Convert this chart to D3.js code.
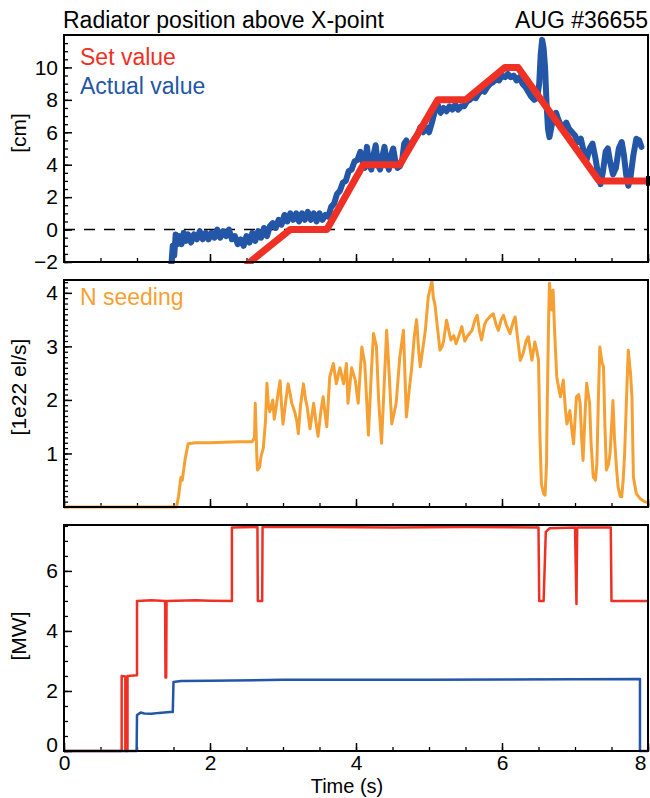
<!DOCTYPE html>
<html>
<head>
<meta charset="utf-8">
<title>AUG #36655</title>
<script src="https://cdnjs.cloudflare.com/ajax/libs/d3/7.8.5/d3.min.js"></script>
<style>
	body { margin: 0; background: white; }
	#chart { display: block; font-family: 'Liberation Sans', Arial, Helvetica, sans-serif; }
</style>
</head>
<body>
<svg id="chart"></svg>
<script>
// tick labels
let timeTicks = [0, 2, 4, 6, 8];
let cmTicks = [-2, 0, 2, 4, 6, 8, 10];
let seedTicks = [1, 2, 3, 4];
let mwTicks = [0, 2, 4, 6];

// radiator position above X-point, [time (s), cm]
let setValue = [[2.52, -2.1], [3.1, 0], [3.6, 0], [4.1, 4], [4.6, 4], [5.12, 8], [5.5, 8],
	[6.04, 10], [6.22, 10], [7.33, 3], [8.0, 3]];

let actualValue = [[1.47, -2.2], [1.49, -1.0], [1.51, -1.6], [1.53, -0.3], [1.55, -0.9], [1.58, -0.4],
	[1.61, -0.9], [1.64, -0.2], [1.67, -0.7], [1.70, -0.3], [1.74, -0.8], [1.78, -0.3], [1.82, -0.6],
	[1.86, -0.1], [1.90, -0.6], [1.94, -0.2], [1.98, -0.6], [2.02, -0.2], [2.06, -0.5], [2.10, 0.0],
	[2.14, -0.5], [2.18, -0.1], [2.22, -0.4], [2.26, 0.0], [2.30, -0.6], [2.34, -0.4], [2.38, -0.9],
	[2.42, -0.6], [2.46, -1.0], [2.50, -0.4], [2.54, -0.8], [2.58, -0.2], [2.62, -0.7], [2.66, -0.1],
	[2.70, -0.5], [2.74, 0.1], [2.78, -0.4], [2.82, 0.2], [2.86, 0.4], [2.90, 0.1], [2.94, 0.6],
	[2.98, 0.3], [3.02, 0.9], [3.06, 0.5], [3.10, 1.0], [3.14, 0.6], [3.18, 1.0], [3.22, 0.5],
	[3.26, 1.0], [3.30, 0.6], [3.34, 1.1], [3.38, 0.6], [3.42, 1.0], [3.46, 0.5], [3.50, 1.0],
	[3.54, 0.6], [3.58, 0.9], [3.62, 0.8], [3.66, 1.4], [3.70, 1.6], [3.74, 2.2], [3.78, 2.4],
	[3.82, 2.9], [3.86, 3.0], [3.90, 3.6], [3.94, 3.7], [3.98, 4.2], [4.02, 4.3], [4.06, 4.8],
	[4.09, 4.2], [4.12, 3.8], [4.15, 5.1], [4.18, 4.0], [4.21, 3.7], [4.24, 4.6], [4.27, 5.2],
	[4.30, 4.0], [4.33, 3.7], [4.36, 4.5], [4.39, 5.1], [4.42, 4.2], [4.45, 3.7], [4.48, 4.6],
	[4.51, 5.0], [4.54, 4.2], [4.57, 3.8], [4.60, 3.9], [4.63, 4.2], [4.66, 5.3], [4.69, 5.5],
	[4.72, 4.9], [4.76, 5.3], [4.80, 5.6], [4.84, 5.8], [4.88, 6.3], [4.92, 6.0], [4.96, 6.3],
	[5.00, 6.0], [5.04, 6.6], [5.08, 7.3], [5.12, 7.7], [5.16, 7.2], [5.20, 7.5], [5.24, 7.3],
	[5.28, 7.6], [5.32, 7.4], [5.36, 7.7], [5.40, 7.4], [5.44, 7.6], [5.48, 7.6], [5.52, 7.9],
	[5.56, 8.0], [5.60, 8.2], [5.64, 8.1], [5.68, 8.4], [5.72, 8.6], [5.76, 8.5], [5.80, 8.8],
	[5.84, 9.0], [5.88, 9.1], [5.92, 9.3], [5.96, 9.2], [6.00, 9.5], [6.04, 9.4], [6.08, 9.6],
	[6.12, 9.4], [6.16, 9.5], [6.20, 9.2], [6.24, 9.4], [6.28, 9.0], [6.32, 8.8], [6.36, 8.5],
	[6.40, 8.2], [6.44, 8.0], [6.48, 8.1], [6.51, 9.0], [6.53, 10.8], [6.55, 11.7], [6.57, 11.2],
	[6.59, 10.0], [6.61, 7.8], [6.63, 6.2], [6.65, 5.7], [6.68, 6.4], [6.71, 6.9], [6.74, 7.2],
	[6.77, 6.8], [6.80, 6.5], [6.84, 6.3], [6.88, 6.6], [6.92, 6.2], [6.96, 6.0], [7.00, 5.8],
	[7.04, 5.4], [7.08, 5.6], [7.12, 4.8], [7.16, 4.3], [7.20, 5.0], [7.24, 5.3], [7.28, 4.4],
	[7.32, 3.3], [7.35, 2.8], [7.38, 3.5], [7.42, 4.8], [7.45, 5.0], [7.48, 4.2], [7.52, 3.4],
	[7.56, 3.8], [7.60, 5.0], [7.64, 5.4], [7.67, 4.6], [7.70, 3.4], [7.73, 2.7], [7.76, 3.2],
	[7.80, 4.6], [7.84, 5.6], [7.88, 5.5], [7.91, 5.1]];

// N seeding rate, [time (s), 1e22 el/s]
let nSeeding = [[0, 0], [1.54, 0], [1.57, 0.2], [1.60, 0.55], [1.62, 0.5], [1.66, 0.9], [1.70, 1.18],
	[1.80, 1.2], [2.0, 1.2], [2.2, 1.21], [2.4, 1.22], [2.58, 1.22], [2.61, 1.3], [2.62, 1.94],
	[2.64, 1.0], [2.65, 0.69], [2.68, 0.75], [2.70, 0.95], [2.73, 1.1], [2.76, 1.6], [2.78, 2.31],
	[2.80, 1.9], [2.82, 1.78], [2.86, 2.0], [2.88, 1.64], [2.91, 1.9], [2.93, 2.1], [2.96, 2.36],
	[2.98, 1.9], [3.00, 1.55], [3.04, 2.0], [3.07, 2.3], [3.10, 2.1], [3.12, 1.94], [3.16, 1.78],
	[3.19, 1.6], [3.21, 1.37], [3.24, 1.9], [3.28, 2.3], [3.31, 2.0], [3.33, 1.88], [3.37, 1.46],
	[3.42, 1.94], [3.45, 1.6], [3.48, 1.32], [3.52, 1.8], [3.55, 2.06], [3.58, 1.7], [3.60, 1.5],
	[3.64, 2.43], [3.69, 2.68], [3.73, 2.3], [3.78, 2.6], [3.83, 2.3], [3.87, 2.68], [3.89, 1.94],
	[3.94, 2.6], [3.99, 2.37], [4.03, 1.94], [4.08, 2.99], [4.12, 2.68], [4.15, 1.9], [4.17, 1.34],
	[4.21, 2.5], [4.24, 3.24], [4.28, 3.0], [4.31, 2.0], [4.35, 1.19], [4.39, 2.4], [4.42, 3.3],
	[4.45, 2.6], [4.49, 1.55], [4.55, 1.94], [4.60, 2.8], [4.65, 3.3], [4.67, 2.5], [4.69, 1.68],
	[4.73, 2.2], [4.76, 2.56], [4.80, 3.2], [4.83, 3.5], [4.86, 2.9], [4.88, 2.62], [4.92, 3.0],
	[4.95, 3.3], [4.99, 3.93], [5.02, 4.1], [5.04, 4.22], [5.06, 3.9], [5.08, 3.8], [5.12, 3.3],
	[5.15, 2.93], [5.18, 3.0], [5.20, 3.1], [5.24, 3.49], [5.27, 3.3], [5.30, 3.12], [5.34, 3.2],
	[5.37, 3.05], [5.41, 3.2], [5.45, 3.37], [5.49, 3.1], [5.52, 3.18], [5.56, 3.25], [5.59, 3.3],
	[5.63, 3.5], [5.66, 3.58], [5.69, 3.3], [5.72, 3.12], [5.76, 3.4], [5.79, 3.49], [5.83, 3.55],
	[5.88, 3.61], [5.92, 3.4], [5.95, 3.3], [5.99, 3.5], [6.02, 3.58], [6.06, 3.4], [6.11, 3.24],
	[6.15, 3.45], [6.18, 3.55], [6.21, 3.2], [6.25, 2.74], [6.29, 2.87], [6.33, 3.1], [6.36, 3.18],
	[6.41, 2.74], [6.45, 3.08], [6.48, 2.9], [6.50, 2.74], [6.52, 1.31], [6.54, 0.43], [6.57, 0.25],
	[6.59, 0.22], [6.61, 0.8], [6.62, 1.94], [6.64, 3.6], [6.65, 4.18], [6.68, 3.68], [6.70, 4.05],
	[6.72, 3.3], [6.75, 2.43], [6.78, 2.2], [6.80, 2.06], [6.84, 2.37], [6.87, 1.8], [6.89, 1.55],
	[6.93, 1.8], [6.96, 1.4], [6.98, 1.18], [7.02, 2.06], [7.05, 2.1], [7.07, 1.94], [7.09, 1.3],
	[7.11, 0.87], [7.14, 1.8], [7.16, 2.31], [7.20, 1.94], [7.22, 1.2], [7.25, 0.56], [7.28, 0.5],
	[7.30, 0.81], [7.32, 2.0], [7.34, 2.99], [7.37, 2.7], [7.39, 2.62], [7.41, 1.5], [7.43, 0.69],
	[7.46, 0.8], [7.48, 1.0], [7.52, 1.99], [7.54, 1.31], [7.57, 0.7], [7.59, 0.37], [7.62, 0.2],
	[7.64, 0.19], [7.66, 0.5], [7.68, 1.0], [7.71, 2.2], [7.73, 2.93], [7.76, 2.5], [7.78, 2.06],
	[7.80, 0.56], [7.84, 0.25], [7.89, 0.16], [7.95, 0.1], [8.1, 0.05]];

// heating power, [time (s), MW]
let nbiPower = [[0, 0], [0.79, 0], [0.79, 2.5], [0.84, 2.48], [0.84, 0], [0.87, 0], [0.87, 2.5],
	[1.0, 2.52], [1.0, 5.0], [1.2, 5.02], [1.385, 5.0], [1.39, 2.45], [1.40, 2.45], [1.405, 5.0],
	[1.8, 5.02], [2.0, 5.01], [2.3, 5.0], [2.3, 7.45], [2.65, 7.46], [2.655, 5.0], [2.715, 5.0],
	[2.72, 7.46], [3.5, 7.46], [4.5, 7.45], [5.5, 7.46], [6.5, 7.45], [6.51, 5.0], [6.57, 5.0],
	[6.6, 7.3], [6.65, 7.42], [7.0, 7.45], [7.02, 4.9], [7.03, 7.45], [7.49, 7.45], [7.5, 5.0],
	[8.1, 5.0]];

let ecrhPower = [[0, 0], [0.995, 0], [1.0, 1.2], [1.05, 1.28], [1.1, 1.25], [1.2, 1.24], [1.3, 1.27],
	[1.45, 1.3], [1.49, 1.3], [1.5, 2.3], [1.6, 2.33], [2.0, 2.34], [3.0, 2.37], [4.0, 2.37],
	[5.0, 2.37], [6.0, 2.38], [7.0, 2.39], [7.89, 2.4], [7.89, 0], [8.1, 0]];

let red = '#ee3124';
let blue = '#2356a6';
let orange = '#f6a033';

function makeChart() {
	let w = 650;
	let h = 798;
	let left = 64;
	let right = 648;

	let svg = d3.select('#chart')
		.attr('width', w)
		.attr('height', h);

	let x = d3.scaleLinear().domain([0, 8]).range([left, right]);

	function styleAxis(g, width) {
		g.select('.domain').remove();
		g.selectAll('line').style('stroke', '#000').style('stroke-width', width);
		g.selectAll('text').style('font-size', '21px').style('fill', '#000')
			.style('font-family', "'Liberation Sans', Arial, sans-serif");
	}

	function makePanel(name, top, bottom, domain, ticks, minor, showTime) {
		let y = d3.scaleLinear().domain(domain).range([bottom, top]);

		svg.append('clipPath')
			.attr('id', 'clip-' + name)
			.append('rect')
			.attr('x', left)
			.attr('y', top)
			.attr('width', right - left)
			.attr('height', bottom - top + 2);

		// y axis, minor then major, ticks pointing inwards
		svg.append('g')
			.attr('transform', `translate(${left},0)`)
			.call(d3.axisLeft(y).tickValues(d3.range(domain[0], domain[1], minor)).tickSize(-4).tickFormat(''))
			.call(g => styleAxis(g, 1.3));

		svg.append('g')
			.attr('class', 'yaxis-' + name)
			.attr('transform', `translate(${left},0)`)
			.call(d3.axisLeft(y).tickValues(ticks).tickSize(-8).tickPadding(6).tickFormat(d3.format('d')))
			.call(g => styleAxis(g, 1.5));

		// time axis
		svg.append('g')
			.attr('transform', `translate(0,${bottom})`)
			.call(d3.axisBottom(x).tickValues(d3.range(0, 8.01, 0.5)).tickSize(-4).tickFormat(''))
			.call(g => styleAxis(g, 1.3));

		let xa = svg.append('g')
			.attr('transform', `translate(0,${bottom})`)
			.call(d3.axisBottom(x).tickValues(timeTicks).tickSize(-8).tickPadding(4)
				.tickFormat(showTime ? d3.format('d') : ''))
			.call(g => styleAxis(g, 1.5));
		// last label pulled inside the page like in the original
		xa.selectAll('.tick').filter(d => d == 8).select('text').attr('x', -8);

		let plot = svg.append('g').attr('clip-path', `url(#clip-${name})`);

		let box = svg.append('rect')
			.attr('x', left)
			.attr('y', top)
			.attr('width', right - left)
			.attr('height', bottom - top)
			.style('fill', 'none')
			.style('stroke', '#000')
			.style('stroke-width', 2);

		return { y: y, plot: plot, box: box };
	}

	function drawLine(panel, data, color, width) {
		let line = d3.line()
			.x(d => x(d[0]))
			.y(d => panel.y(d[1]));
		panel.plot.append('path')
			.datum(data)
			.attr('d', line)
			.style('fill', 'none')
			.style('stroke', color)
			.style('stroke-width', width)
			.style('stroke-linejoin', 'round')
			.style('stroke-linecap', 'round');
	}

	// panel 1 : radiator position
	let p1 = makePanel('pos', 35, 262, [-2, 12], cmTicks, 0.5, false);
	p1.plot.append('line')
		.attr('x1', x(0)).attr('x2', x(8))
		.attr('y1', p1.y(0)).attr('y2', p1.y(0))
		.style('stroke', '#000')
		.style('stroke-width', 1.5)
		.style('stroke-dasharray', '11,9');
	drawLine(p1, actualValue, blue, 6);
	drawLine(p1, setValue, red, 7);
	svg.append('line')
		.attr('x1', right).attr('x2', right)
		.attr('y1', p1.y(3.3)).attr('y2', p1.y(2.7))
		.style('stroke', '#000')
		.style('stroke-width', 4);

	// panel 2 : N seeding
	let p2 = makePanel('seed', 280, 507, [0, 4.24], seedTicks, 0.1, false);
	drawLine(p2, nSeeding, orange, 3);

	// panel 3 : heating power
	let p3 = makePanel('pow', 525, 751, [0, 7.53], mwTicks, 0.5, true);
	drawLine(p3, nbiPower, red, 2.5);
	drawLine(p3, ecrhPower, blue, 2.5);
	svg.selectAll('.yaxis-pow .tick').filter(d => d == 0).select('text').attr('y', -6);

	// titles and legends
	svg.append('text')
		.attr('x', 63)
		.attr('y', 28)
		.style('font-size', '23px')
		.text('Radiator position above X-point');
	svg.append('text')
		.attr('x', 648)
		.attr('y', 28)
		.style('font-size', '23px')
		.style('text-anchor', 'end')
		.text('AUG #36655');

	svg.append('text')
		.attr('x', 80).attr('y', 65)
		.style('font-size', '23px')
		.style('fill', red)
		.text('Set value');
	svg.append('text')
		.attr('x', 80).attr('y', 94)
		.style('font-size', '23px')
		.style('fill', blue)
		.text('Actual value');
	svg.append('text')
		.attr('x', 80).attr('y', 305)
		.style('font-size', '23px')
		.style('fill', orange)
		.text('N seeding');

	let yLabels = [['[cm]', 133], ['[1e22 el/s]', 387], ['[MW]', 636]];
	svg.selectAll('.ylabel')
		.data(yLabels)
		.enter()
		.append('text')
		.attr('class', 'ylabel')
		.attr('transform', d => `translate(26,${d[1]}) rotate(-90)`)
		.style('font-size', '21px')
		.style('text-anchor', 'middle')
		.text(d => d[0]);

	svg.append('text')
		.attr('x', 347)
		.attr('y', 793)
		.style('font-size', '20px')
		.style('text-anchor', 'middle')
		.text('Time (s)');
}

window.onload = function () {
	makeChart();
}
</script>
</body>
</html>
